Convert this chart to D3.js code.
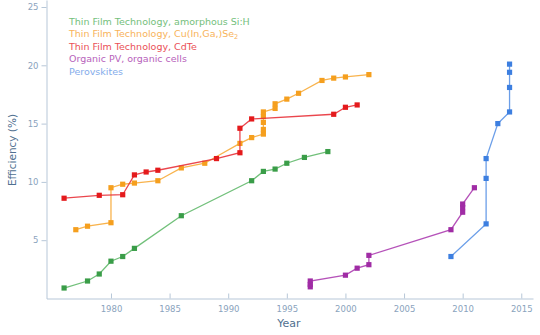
<!DOCTYPE html>
<html><head><meta charset="utf-8">
<script src="https://cdn.jsdelivr.net/npm/d3@7/dist/d3.min.js"></script>
<style>body{margin:0;background:#fff;} svg{display:block;font-family:"DejaVu Sans",Verdana,sans-serif;}</style>
</head><body>
<svg id="c" width="540" height="335"></svg>
<script>
const siYears = [1976,1978,1979,1980,1981,1982,1986,1992,1993,1994,1995,1996.5,1998.5];
const siEff   = [0.9,1.5,2.1,3.2,3.6,4.3,7.1,10.1,10.9,11.1,11.6,12.1,12.6];
const cigsYears = [1977,1978,1980,1980,1981,1982,1984,1986,1988,1991,1992,1993,1993,1993,1993,1993,1994,1994,1995,1996,1998,1999,2000,2002];
const cigsEff   = [5.9,6.2,6.5,9.5,9.8,9.9,10.1,11.2,11.6,13.3,13.8,14.1,14.5,15.1,15.6,16.0,16.3,16.7,17.1,17.6,18.7,18.9,19.0,19.2];
const cdteYears = [1976,1979,1981,1982,1983,1984,1989,1991,1991,1992,1999,2000,2001];
const cdteEff   = [8.6,8.85,8.9,10.6,10.85,11.0,12.0,12.5,14.6,15.4,15.8,16.4,16.6];
const opvYears = [1997,1997,1997,2000,2001,2002,2002,2009,2010,2010,2010,2011];
const opvEff   = [1.0,1.2,1.5,2.0,2.6,2.9,3.7,5.9,7.4,7.8,8.1,9.5];
const pvkYears = [2009,2012,2012,2012,2013,2014,2014,2014,2014];
const pvkEff   = [3.6,6.4,10.3,12.0,15.0,16.0,18.1,19.4,20.1];
const xTicks = [1980,1985,1990,1995,2000,2005,2010,2015];
const yTicks = [5,10,15,20,25];

const series = [
  {name:"Thin Film Technology, amorphous Si:H", years:siYears, eff:siEff, line:"#62b96c", mark:"#3a9d48", text:"#74c07c"},
  {name:"Thin Film Technology, Cu(In,Ga,)Se", sub:"2", years:cigsYears, eff:cigsEff, line:"#f7ab3a", mark:"#f59f1e", text:"#f8b35a"},
  {name:"Thin Film Technology, CdTe", years:cdteYears, eff:cdteEff, line:"#e8323a", mark:"#e41a1c", text:"#ea5056"},
  {name:"Organic PV, organic cells", years:opvYears, eff:opvEff, line:"#ad3fb1", mark:"#a02ca5", text:"#b762bb"},
  {name:"Perovskites", years:pvkYears, eff:pvkEff, line:"#5b93e6", mark:"#3d7fe0", text:"#84aceb"}
];

const svg = d3.select("#c");
const x = d3.scaleLinear().domain([1974.5, 2016]).range([46.5, 533]);
const y = d3.scaleLinear().domain([0, 25.6]).range([298.5, 0]);
const axisCol = "#b7c7d8", tickTxt = "#8aa3bd", titleCol = "#4f7090";

// axes
const gx = svg.append("g").attr("transform","translate(0,298.5)")
  .call(d3.axisBottom(x).tickValues(xTicks).tickFormat(d3.format("d")).tickSizeInner(-5).tickSizeOuter(0).tickPadding(7));
const gy = svg.append("g").attr("transform","translate(46.5,0)")
  .call(d3.axisLeft(y).tickValues(yTicks).tickSizeInner(5).tickSizeOuter(0).tickPadding(3));
[gx,gy].forEach(g=>{
  g.select(".domain").attr("stroke",axisCol).attr("stroke-width",1);
  g.selectAll(".tick line").attr("stroke",axisCol);
  g.selectAll(".tick text").attr("fill",tickTxt).attr("font-size",8.5).attr("font-family","DejaVu Sans, Verdana, sans-serif");
});
svg.append("text").attr("x",289).attr("y",327).attr("text-anchor","middle")
  .attr("fill",titleCol).attr("font-size",11).text("Year");
svg.append("text").attr("transform","translate(16,150) rotate(-90)").attr("text-anchor","middle")
  .attr("fill",titleCol).attr("font-size",10.5).text("Efficiency (%)");

// series
series.forEach(s=>{
  const pts = s.years.map((yr,i)=>[yr, s.eff[i]]);
  svg.append("path").datum(pts)
    .attr("d", d3.line().x(d=>x(d[0])).y(d=>y(d[1])))
    .attr("fill","none").attr("stroke",s.line).attr("stroke-width",1.3).attr("stroke-opacity",0.9);
  svg.append("g").selectAll("rect").data(pts).join("rect")
    .attr("x",d=>x(d[0])-2.6).attr("y",d=>y(d[1])-2.6).attr("width",5.2).attr("height",5.2)
    .attr("fill",s.mark);
});

// legend
series.forEach((s,i)=>{
  const t = svg.append("text").attr("x",69).attr("y",25+i*12.4)
    .attr("fill",s.text).attr("font-size",9.5).text(s.name);
  if (s.sub) t.append("tspan").attr("font-size",6.5).attr("dy",2).text(s.sub);
});
</script>
</body></html>
